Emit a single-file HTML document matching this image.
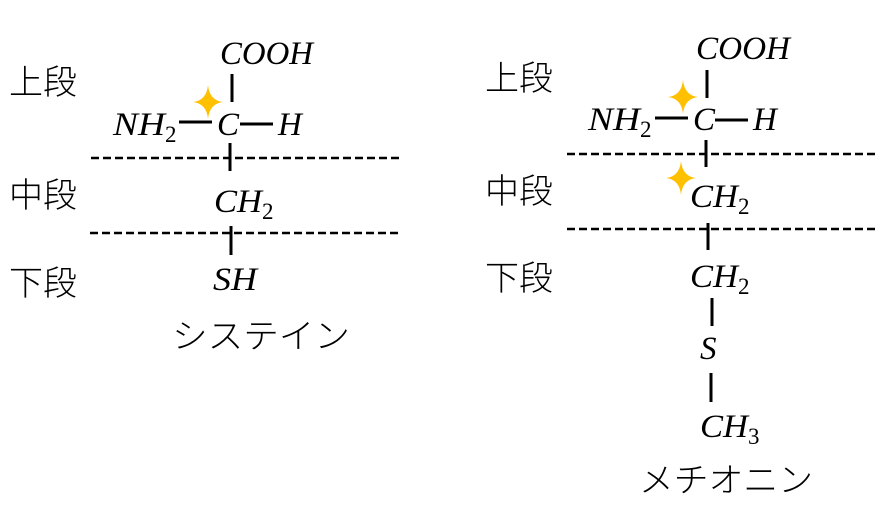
<!DOCTYPE html>
<html><head><meta charset="utf-8"><style>
html,body{margin:0;padding:0;background:#fff;}
svg{display:block}
.m{font-family:"Liberation Serif",serif;font-style:italic;font-size:33px;fill:#000}
.s{font-family:"Liberation Serif",serif;font-size:23px;fill:#000}
.j{font-family:"Noto Sans CJK JP",sans-serif;font-weight:300;font-size:34px;fill:#000}
.l{stroke:#000;stroke-width:3}
.d{stroke:#000;stroke-width:2.5;stroke-dasharray:8 4}
</style></head><body>
<svg width="882" height="509" viewBox="0 0 882 509" xmlns="http://www.w3.org/2000/svg">
<defs><path id="st" d="M0,-17 Q1.5,-1.5 15,0 Q1.5,1.5 0,17 Q-1.5,1.5 -15,0 Q-1.5,-1.5 0,-17Z" fill="#FFC000"/></defs>
<!-- left -->
<text class="j" x="9" y="94">上段</text>
<text class="j" x="9" y="207">中段</text>
<text class="j" x="9" y="295">下段</text>
<text class="m" x="220" y="64" textLength="93" lengthAdjust="spacingAndGlyphs">COOH</text>
<line class="l" x1="232" y1="74" x2="232" y2="102"/>
<use href="#st" x="208" y="102"/>
<text class="m" x="113" y="135" textLength="52" lengthAdjust="spacingAndGlyphs">NH</text>
<text class="s" x="165" y="142">2</text>
<line class="l" x1="179" y1="122" x2="212" y2="122"/>
<text class="m" x="217" y="135">C</text>
<line class="l" x1="240" y1="124" x2="273" y2="124"/>
<text class="m" x="278" y="135">H</text>
<line class="l" x1="230" y1="143" x2="230" y2="171"/>
<line class="d" x1="91" y1="158" x2="400" y2="158"/>
<text class="m" x="214" y="212" textLength="48" lengthAdjust="spacingAndGlyphs">CH</text>
<text class="s" x="262" y="219">2</text>
<line class="d" x1="90" y1="233" x2="400" y2="233"/>
<line class="l" x1="231" y1="226" x2="231" y2="255"/>
<text class="m" x="213" y="290" textLength="44" lengthAdjust="spacingAndGlyphs">SH</text>
<text class="j" x="172" y="348" textLength="178" lengthAdjust="spacingAndGlyphs">システイン</text>
<!-- right -->
<text class="j" x="485" y="90">上段</text>
<text class="j" x="485" y="203">中段</text>
<text class="j" x="485" y="290">下段</text>
<text class="m" x="696" y="59" textLength="94" lengthAdjust="spacingAndGlyphs">COOH</text>
<line class="l" x1="707" y1="70" x2="707" y2="98"/>
<use href="#st" x="683" y="97"/>
<text class="m" x="588" y="130" textLength="52" lengthAdjust="spacingAndGlyphs">NH</text>
<text class="s" x="640" y="137">2</text>
<line class="l" x1="655" y1="118" x2="688" y2="118"/>
<text class="m" x="693" y="130">C</text>
<line class="l" x1="715" y1="120" x2="748" y2="120"/>
<text class="m" x="753" y="130">H</text>
<line class="l" x1="706" y1="140" x2="706" y2="167"/>
<line class="d" x1="567" y1="154" x2="875" y2="154"/>
<use href="#st" x="681" y="178"/>
<text class="m" x="690" y="207" textLength="48" lengthAdjust="spacingAndGlyphs">CH</text>
<text class="s" x="738" y="214">2</text>
<line class="d" x1="567" y1="229" x2="875" y2="229"/>
<line class="l" x1="708" y1="223" x2="708" y2="250"/>
<text class="m" x="690" y="287" textLength="48" lengthAdjust="spacingAndGlyphs">CH</text>
<text class="s" x="738" y="294">2</text>
<line class="l" x1="712" y1="298" x2="712" y2="326"/>
<text class="m" x="700" y="359">S</text>
<line class="l" x1="711" y1="373" x2="711" y2="402"/>
<text class="m" x="700" y="437" textLength="48" lengthAdjust="spacingAndGlyphs">CH</text>
<text class="s" x="748" y="444">3</text>
<text class="j" x="639" y="492" textLength="174" lengthAdjust="spacingAndGlyphs">メチオニン</text>
</svg>
</body></html>
